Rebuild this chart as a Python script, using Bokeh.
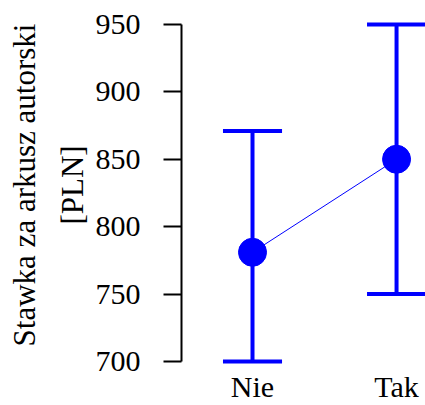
from bokeh.plotting import figure
from bokeh.models import FixedTicker
from bokeh.embed import file_html
from bokeh.resources import INLINE

categories = ["Nie", "Tak"]
means = [781, 850]
lower = [700, 750]
upper = [871, 950]
y_ticks = [700, 750, 800, 850, 900, 950]
y_title = "Stawka za arkusz autorski\n[PLN]"

BLUE = "#0000ff"
FONT = "Liberation Serif"
xs = [i + 1 for i in range(len(categories))]
cap = 0.205

p = figure(width=425, height=405, x_range=(0.507, 2.201), y_range=(694.08, 967.75),
           output_backend="svg", toolbar_location=None,
           min_border_left=181, min_border_top=0, min_border_right=0, min_border_bottom=35)
p.outline_line_color = None
p.xgrid.visible = False
p.ygrid.visible = False
p.background_fill_color = "white"
p.border_fill_color = "white"

# y axis
p.yaxis.ticker = FixedTicker(ticks=y_ticks)
p.yaxis.bounds = (min(y_ticks), max(y_ticks))
p.yaxis.major_tick_out = 18
p.yaxis.major_tick_in = 0
p.yaxis.minor_tick_line_color = None
p.yaxis.major_tick_line_width = 2
p.yaxis.axis_line_width = 2
p.yaxis.axis_line_color = "black"
p.yaxis.major_tick_line_color = "black"
p.yaxis.major_label_standoff = 23
p.yaxis.major_label_text_font = FONT
p.yaxis.major_label_text_font_size = "30px"
p.yaxis.major_label_text_color = "black"
p.yaxis.axis_label = y_title
p.yaxis.axis_label_text_font = FONT
p.yaxis.axis_label_text_font_size = "31px"
p.yaxis.axis_label_text_font_style = "normal"
p.yaxis.axis_label_text_color = "black"
p.yaxis.axis_label_text_line_height = 1.35
p.yaxis.axis_label_standoff = 3

# x axis
p.xaxis.ticker = FixedTicker(ticks=xs)
p.xaxis.major_label_overrides = {x: c for x, c in zip(xs, categories)}
p.xaxis.axis_line_color = None
p.xaxis.major_tick_line_color = None
p.xaxis.minor_tick_line_color = None
p.xaxis.major_tick_out = 0
p.xaxis.major_tick_in = 0
p.xaxis.major_label_standoff = 0
p.xaxis.major_label_text_font = FONT
p.xaxis.major_label_text_font_size = "30px"
p.xaxis.major_label_text_color = "black"

# connecting line
p.line(xs, means, line_color=BLUE, line_width=1)

# error bars
p.segment(x0=xs, y0=lower, x1=xs, y1=upper, line_color=BLUE, line_width=4)
p.segment(x0=[x - cap for x in xs], y0=upper, x1=[x + cap for x in xs], y1=upper,
          line_color=BLUE, line_width=4)
p.segment(x0=[x - cap for x in xs], y0=lower, x1=[x + cap for x in xs], y1=lower,
          line_color=BLUE, line_width=4)

# points
p.scatter(xs, means, size=28, fill_color=BLUE, line_color=BLUE)

open("out.html", "w").write(file_html(p, INLINE))
